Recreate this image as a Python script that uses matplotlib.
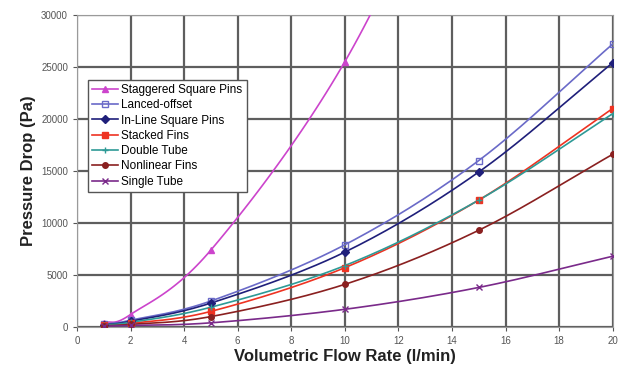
import numpy as np
import matplotlib
matplotlib.use("Agg")
import matplotlib.pyplot as plt

plt.rcParams['font.family'] = ['Liberation Sans Narrow', 'Liberation Sans', 'DejaVu Sans']

# portate (l/min) e cadute di pressione (Pa)
flow = [1, 2, 5, 10, 15, 20]
flow_stag = [1, 2, 5, 10, 15]
staggered = [400, 1200, 7400, 25500, 52000]
lanced = [250, 650, 2500, 7900, 16000, 27200]
inline_pins = [220, 550, 2300, 7200, 14900, 25400]
stacked = [150, 350, 1500, 5700, 12200, 21000]
double_tube = [200, 450, 1900, 5900, 12200, 20500]
nonlinear = [120, 250, 1000, 4100, 9300, 16600]
single_tube = [80, 150, 400, 1700, 3800, 6800]


def smooth(x, y, n=30):
    # curva tipo Excel (Catmull-Rom) solo per il disegno della linea
    x = np.asarray(x, float)
    y = np.asarray(y, float)
    px = np.concatenate([[2 * x[0] - x[1]], x, [2 * x[-1] - x[-2]]])
    py = np.concatenate([[2 * y[0] - y[1]], y, [2 * y[-1] - y[-2]]])
    xs, ys = [], []
    t = np.linspace(0, 1, n)
    for i in range(1, len(px) - 2):
        p0, p1, p2, p3 = px[i - 1], px[i], px[i + 1], px[i + 2]
        q0, q1, q2, q3 = py[i - 1], py[i], py[i + 1], py[i + 2]
        for arr, a0, a1, a2, a3 in ((xs, p0, p1, p2, p3), (ys, q0, q1, q2, q3)):
            arr.extend(0.5 * (2 * a1 + (-a0 + a2) * t + (2 * a0 - 5 * a1 + 4 * a2 - a3) * t ** 2
                              + (-a0 + 3 * a1 - 3 * a2 + a3) * t ** 3))
    return xs, ys


series = [
    ("Staggered Square Pins", flow_stag, staggered, "#cc44cc", "^", "#cc44cc"),
    ("Lanced-offset", flow, lanced, "#6a6ac8", "s", "none"),
    ("In-Line Square Pins", flow, inline_pins, "#1f1f7a", "D", "#1f1f7a"),
    ("Stacked Fins", flow, stacked, "#ee3322", "s", "#ee3322"),
    ("Double Tube", flow, double_tube, "#2e9a96", "+", "#2e9a96"),
    ("Nonlinear Fins", flow, nonlinear, "#8a2020", "o", "#8a2020"),
    ("Single Tube", flow, single_tube, "#7a2a8a", "x", "#7a2a8a"),
]

fig = plt.figure(figsize=(6.31, 3.72), dpi=100)
ax = fig.add_axes([0.122, 0.121, 0.849, 0.839])

for name, xv, yv, col, mk, fc in series:
    sx, sy = smooth(xv, yv)
    ax.plot(sx, sy, color=col, lw=1.2, zorder=3)
    ax.plot(xv, yv, ls="none", marker=mk, color=col, mfc=fc, ms=4, mew=1, zorder=4)
    ax.plot([], [], color=col, lw=1.2, marker=mk, mfc=fc, ms=4, mew=1, label=name)

ax.set_xlim(0, 20)
ax.set_ylim(0, 30000)
ax.set_xticks(range(0, 21, 2))
ax.set_yticks(range(0, 30001, 5000))
ax.grid(True, color="#5e5e5e", lw=1.6)
ax.set_axisbelow(True)
for s in ax.spines.values():
    s.set_color("#9a9a9a")
ax.tick_params(labelsize=7, colors="#555555", length=3)

ax.set_xlabel("Volumetric Flow Rate (l/min)", fontsize=12, fontweight="bold", color="#222222", labelpad=2)
ax.set_ylabel("Pressure Drop (Pa)", fontsize=12, fontweight="bold", color="#222222", labelpad=4)

leg = ax.legend(loc="upper left", bbox_to_anchor=(0.02, 0.792), borderaxespad=0, fontsize=8.5,
                frameon=True, fancybox=False, handlelength=2.2, borderpad=0.35, labelspacing=0.28,
                handletextpad=0.3)
leg.get_frame().set_edgecolor("#555555")
leg.get_frame().set_alpha(1)

fig.savefig("out.png", dpi=100)
